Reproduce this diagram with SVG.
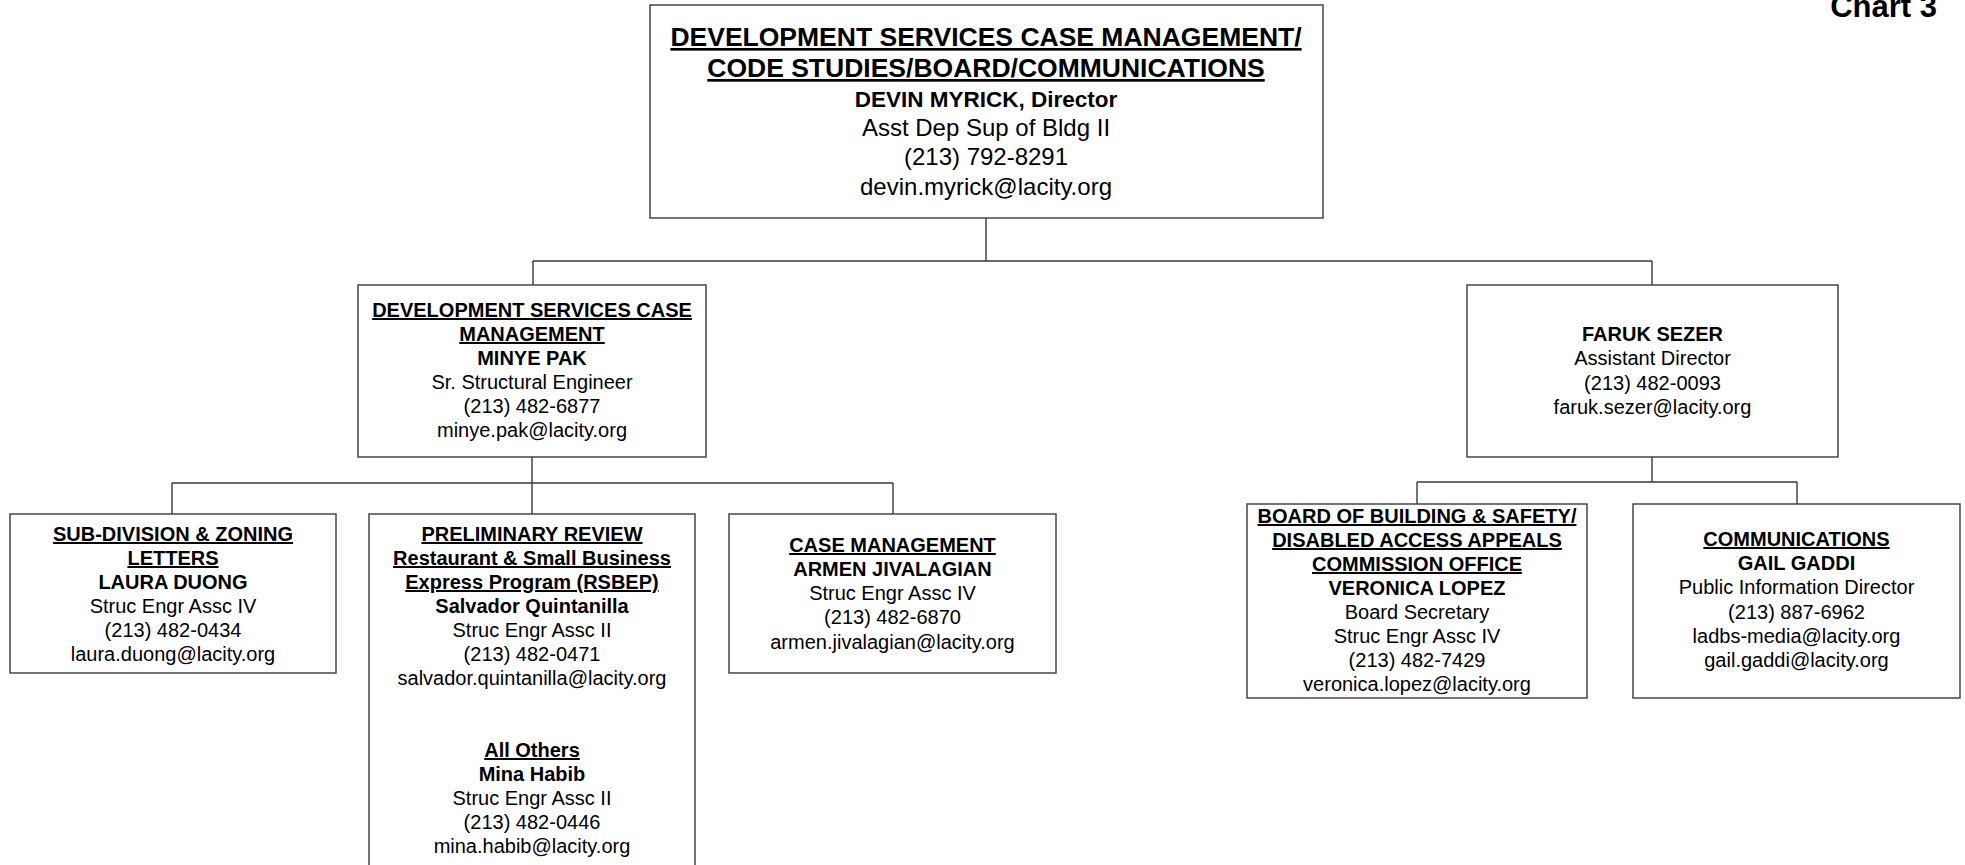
<svg xmlns="http://www.w3.org/2000/svg" width="1965" height="865" viewBox="0 0 1965 865">
<style>
.box{fill:#fff;stroke:#3a3a3a;stroke-width:1.4}
.con{fill:none;stroke:#3a3a3a;stroke-width:1.4}
text{font-family:"Liberation Sans",Arial,sans-serif;fill:#000;text-anchor:middle}
.t{font-size:26.5px;font-weight:bold;text-decoration:underline}
.tb{font-size:22.5px;font-weight:bold}
.tr{font-size:24px}
.h{font-size:20px;font-weight:bold;text-decoration:underline}
.b{font-size:20px;font-weight:bold}
.r{font-size:20px}
</style>
<rect width="1965" height="865" fill="#fff"/>
<text x="1937" y="17" style="font-size:31px;font-weight:bold;text-anchor:end">Chart 3</text>
<g id="connectors">
<path class="con" d="M986 218V261M533 261H1652M533 261V285M1652 261V285"/>
<path class="con" d="M532 457V483M172 483H893M172 483V514M532 483V514M893 483V514"/>
<path class="con" d="M1652 457V482M1417 482H1797M1417 482V504M1797 482V504"/>
</g>
<g id="director">
<rect class="box" x="650" y="5" width="673" height="213"/>
<text class="t" x="986" y="46">DEVELOPMENT SERVICES CASE MANAGEMENT/</text>
<text class="t" x="986" y="77">CODE STUDIES/BOARD/COMMUNICATIONS</text>
<text class="tb" x="986" y="107">DEVIN MYRICK, Director</text>
<text class="tr" x="986" y="136">Asst Dep Sup of Bldg II</text>
<text class="tr" x="986" y="165">(213) 792-8291</text>
<text class="tr" x="986" y="195">devin.myrick@lacity.org</text>
</g>
<g id="case-mgmt">
<rect class="box" x="358" y="285" width="348" height="172"/>
<text class="h" x="532" y="317">DEVELOPMENT SERVICES CASE</text>
<text class="h" x="532" y="341">MANAGEMENT</text>
<text class="b" x="532" y="365">MINYE PAK</text>
<text class="r" x="532" y="389">Sr. Structural Engineer</text>
<text class="r" x="532" y="413">(213) 482-6877</text>
<text class="r" x="532" y="437">minye.pak@lacity.org</text>
</g>
<g id="asst-director">
<rect class="box" x="1467" y="285" width="371" height="172"/>
<text class="b" x="1652.5" y="341">FARUK SEZER</text>
<text class="r" x="1652.5" y="365">Assistant Director</text>
<text class="r" x="1652.5" y="390">(213) 482-0093</text>
<text class="r" x="1652.5" y="414">faruk.sezer@lacity.org</text>
</g>
<g id="subdivision">
<rect class="box" x="10" y="514" width="326" height="159"/>
<text class="h" x="173" y="541">SUB-DIVISION &amp; ZONING</text>
<text class="h" x="173" y="565">LETTERS</text>
<text class="b" x="173" y="589">LAURA DUONG</text>
<text class="r" x="173" y="613">Struc Engr Assc IV</text>
<text class="r" x="173" y="637">(213) 482-0434</text>
<text class="r" x="173" y="661">laura.duong@lacity.org</text>
</g>
<g id="preliminary-review">
<rect class="box" x="369" y="514" width="326" height="370"/>
<text class="h" x="532" y="541">PRELIMINARY REVIEW</text>
<text class="h" x="532" y="565">Restaurant &amp; Small Business</text>
<text class="h" x="532" y="589">Express Program (RSBEP)</text>
<text class="b" x="532" y="613">Salvador Quintanilla</text>
<text class="r" x="532" y="637">Struc Engr Assc II</text>
<text class="r" x="532" y="661">(213) 482-0471</text>
<text class="r" x="532" y="685">salvador.quintanilla@lacity.org</text>
<text class="h" x="532" y="757">All Others</text>
<text class="b" x="532" y="781">Mina Habib</text>
<text class="r" x="532" y="805">Struc Engr Assc II</text>
<text class="r" x="532" y="829">(213) 482-0446</text>
<text class="r" x="532" y="853">mina.habib@lacity.org</text>
</g>
<g id="case-management">
<rect class="box" x="729" y="514" width="327" height="159"/>
<text class="h" x="892.5" y="552">CASE MANAGEMENT</text>
<text class="b" x="892.5" y="576">ARMEN JIVALAGIAN</text>
<text class="r" x="892.5" y="600">Struc Engr Assc IV</text>
<text class="r" x="892.5" y="624">(213) 482-6870</text>
<text class="r" x="892.5" y="649">armen.jivalagian@lacity.org</text>
</g>
<g id="board">
<rect class="box" x="1247" y="504" width="340" height="194"/>
<text class="h" x="1417" y="523">BOARD OF BUILDING &amp; SAFETY/</text>
<text class="h" x="1417" y="547">DISABLED ACCESS APPEALS</text>
<text class="h" x="1417" y="571">COMMISSION OFFICE</text>
<text class="b" x="1417" y="595">VERONICA LOPEZ</text>
<text class="r" x="1417" y="619">Board Secretary</text>
<text class="r" x="1417" y="643">Struc Engr Assc IV</text>
<text class="r" x="1417" y="667">(213) 482-7429</text>
<text class="r" x="1417" y="691">veronica.lopez@lacity.org</text>
</g>
<g id="communications">
<rect class="box" x="1633" y="504" width="327" height="194"/>
<text class="h" x="1796.5" y="546">COMMUNICATIONS</text>
<text class="b" x="1796.5" y="570">GAIL GADDI</text>
<text class="r" x="1796.5" y="594">Public Information Director</text>
<text class="r" x="1796.5" y="619">(213) 887-6962</text>
<text class="r" x="1796.5" y="643">ladbs-media@lacity.org</text>
<text class="r" x="1796.5" y="667">gail.gaddi@lacity.org</text>
</g>
</svg>
